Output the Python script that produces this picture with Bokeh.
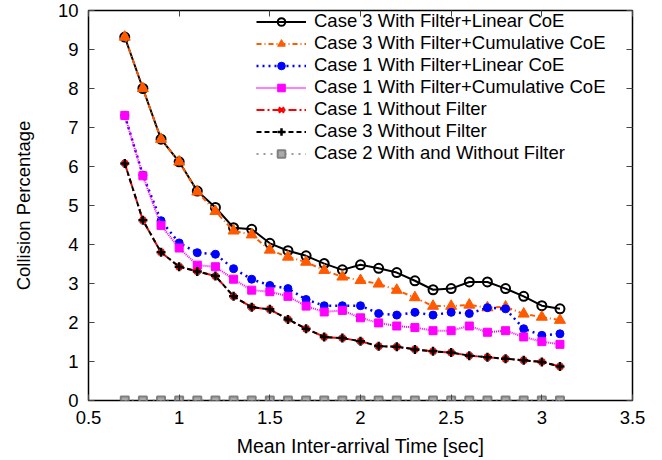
from bokeh.plotting import figure
from bokeh.models import (Range1d, LinearAxis, FixedTicker, Legend, LegendItem,
                          CustomLabelingPolicy)
from bokeh.embed import file_html
from bokeh.resources import INLINE

x = [0.7, 0.8, 0.9, 1.0, 1.1, 1.2, 1.3, 1.4, 1.5, 1.6, 1.7, 1.8, 1.9,
     2.0, 2.1, 2.2, 2.3, 2.4, 2.5, 2.6, 2.7, 2.8, 2.9, 3.0, 3.1]

case3_linear = [9.32, 8.00, 6.70, 6.12, 5.37, 4.95, 4.43, 4.39, 4.03, 3.84, 3.71, 3.51, 3.35,
                3.48, 3.39, 3.28, 3.07, 2.84, 2.87, 3.04, 3.04, 2.87, 2.67, 2.43, 2.35]
case3_cum = [9.32, 8.00, 6.70, 6.12, 5.35, 4.85, 4.35, 4.25, 3.86, 3.68, 3.55, 3.34, 3.17,
             3.08, 2.99, 2.83, 2.64, 2.42, 2.42, 2.45, 2.38, 2.40, 2.22, 2.14, 2.06]
case1_linear = [7.31, 5.78, 4.61, 4.04, 3.79, 3.75, 3.38, 3.11, 2.95, 2.87, 2.59, 2.43, 2.43,
                2.43, 2.23, 2.19, 2.26, 2.19, 2.26, 2.23, 2.38, 2.35, 1.84, 1.67, 1.71]
case1_cum = [7.31, 5.76, 4.49, 3.91, 3.47, 3.43, 3.11, 2.83, 2.79, 2.67, 2.42, 2.27, 2.31,
             2.12, 1.99, 1.91, 1.87, 1.79, 1.79, 1.91, 1.75, 1.79, 1.63, 1.51, 1.44]
case1_nofilter = [6.08, 4.62, 3.80, 3.43, 3.31, 3.19, 2.67, 2.39, 2.34, 2.08, 1.84, 1.63, 1.60,
                  1.52, 1.39, 1.38, 1.31, 1.26, 1.23, 1.15, 1.11, 1.07, 1.03, 0.99, 0.87]
case3_nofilter = [6.08, 4.62, 3.80, 3.43, 3.31, 3.19, 2.67, 2.39, 2.34, 2.08, 1.84, 1.63, 1.60,
                  1.52, 1.39, 1.38, 1.31, 1.26, 1.23, 1.15, 1.11, 1.07, 1.03, 0.99, 0.87]
case2 = [0, 0, 0, 0, 0, 0, 0, 0, 0, 0, 0, 0, 0,
         0, 0, 0, 0, 0, 0, 0, 0, 0, 0, 0, 0]

labels = ["Case 3 With Filter+Linear CoE",
          "Case 3 With Filter+Cumulative CoE",
          "Case 1 With Filter+Linear CoE",
          "Case 1 With Filter+Cumulative CoE",
          "Case 1 Without Filter",
          "Case 3 Without Filter",
          "Case 2 With and Without Filter"]

x_ticks = [0.5, 1.0, 1.5, 2.0, 2.5, 3.0, 3.5]
y_ticks = [0, 1, 2, 3, 4, 5, 6, 7, 8, 9, 10]

FONT = "Liberation Sans"
FS = "18.5px"

p = figure(width=662, height=460, x_range=Range1d(0.5, 3.5), y_range=Range1d(0, 10),
           output_backend="svg", toolbar_location=None,
           min_border_left=88, min_border_right=30, min_border_top=10, min_border_bottom=60)
p.background_fill_color = "white"
p.border_fill_color = "white"
p.outline_line_color = "black"
p.outline_line_width = 1.5
p.xgrid.visible = False
p.ygrid.visible = False

p.xaxis.ticker = FixedTicker(ticks=x_ticks)
p.yaxis.ticker = FixedTicker(ticks=y_ticks)
p.xaxis.major_label_overrides = {0.5: "0.5", 1.0: "1", 1.5: "1.5", 2.0: "2", 2.5: "2.5", 3.0: "3", 3.5: "3.5"}
for ax in (p.xaxis[0], p.yaxis[0]):
    ax.axis_line_color = None
    ax.major_tick_in = 6
    ax.major_tick_out = 0
    ax.major_tick_line_color = "#444444"
    ax.minor_tick_line_color = None
    ax.major_label_text_font = FONT
    ax.major_label_text_font_size = FS
    ax.major_label_text_color = "black"
    ax.axis_label_text_font = FONT
    ax.axis_label_text_font_style = "normal"
    ax.axis_label_text_color = "black"
p.xaxis.axis_label = "Mean Inter-arrival Time [sec]"
p.yaxis.axis_label = "Collision Percentage"
p.xaxis.axis_label_text_font_size = "19.5px"
p.yaxis.axis_label_text_font_size = FS
p.xaxis.major_label_standoff = 10
p.xaxis.axis_label_standoff = 8
p.yaxis.major_label_standoff = 10
p.yaxis.axis_label_standoff = 21

# mirrored inward ticks on the right and top edges (no labels)
for loc, tk in (("right", y_ticks), ("above", x_ticks)):
    ax = LinearAxis(ticker=FixedTicker(ticks=tk), axis_line_color=None,
                    major_tick_in=6, major_tick_out=0, major_tick_line_color="#444444",
                    minor_tick_line_color=None, major_label_text_font_size="2px",
                    major_label_standoff=0,
                    major_label_policy=CustomLabelingPolicy(code="return []"))
    p.add_layout(ax, loc)

items = []

r = p.line(x, case3_linear, line_color="black", line_width=2)
m = p.scatter(x, case3_linear, marker="circle", size=9, fill_color=None, line_color="black", line_width=2)
items.append(LegendItem(label=labels[0], renderers=[r, m]))

r = p.line(x, case3_cum, line_color="#ff5a00", line_width=2, line_dash="5 3 1 3")
m = p.scatter(x, case3_cum, marker="triangle", size=11, fill_color="#ff5a00", line_color="#ff5a00")
items.append(LegendItem(label=labels[1], renderers=[r, m]))

r = p.line(x, case1_linear, line_color="#0000ff", line_width=2.5, line_dash="2 4")
m = p.scatter(x, case1_linear, marker="circle", size=8, fill_color="#0000ff", line_color="#0000ff")
items.append(LegendItem(label=labels[2], renderers=[r, m]))

r = p.line(x, case1_cum, line_color="#ff00ff", line_width=2, line_dash="1 1")
m = p.scatter(x, case1_cum, marker="square", size=8, fill_color="#ff00ff", line_color="#ff00ff")
items.append(LegendItem(label=labels[3], renderers=[r, m]))

r = p.line(x, case1_nofilter, line_color="#ff0000", line_width=2, line_dash="8 3 2 3")
m = p.scatter(x, case1_nofilter, marker="x", size=8, line_color="#ff0000", line_width=2.5)
items.append(LegendItem(label=labels[4], renderers=[r, m]))

r = p.line(x, case3_nofilter, line_color="black", line_width=2, line_dash="5 3")
m = p.scatter(x, case3_nofilter, marker="cross", size=9, line_color="black", line_width=2.5)
items.append(LegendItem(label=labels[5], renderers=[r, m]))

r = p.line(x, case2, line_color="#999999", line_width=2, line_dash="2 5")
m = p.scatter(x, case2, marker="square", size=8, fill_color="#aaaaaa", line_color="#808080", line_width=2)
items.append(LegendItem(label=labels[6], renderers=[r, m]))

legend = Legend(items=items, location=(168, 236))
legend.label_text_font = FONT
legend.label_text_font_size = FS
legend.label_text_color = "black"
legend.label_height = 19
legend.glyph_height = 19
legend.glyph_width = 50
legend.spacing = 0
legend.padding = 0
legend.margin = 0
legend.label_standoff = 8
legend.border_line_color = None
legend.background_fill_alpha = 0
p.add_layout(legend)

open("out.html", "w").write(file_html(p, INLINE))
